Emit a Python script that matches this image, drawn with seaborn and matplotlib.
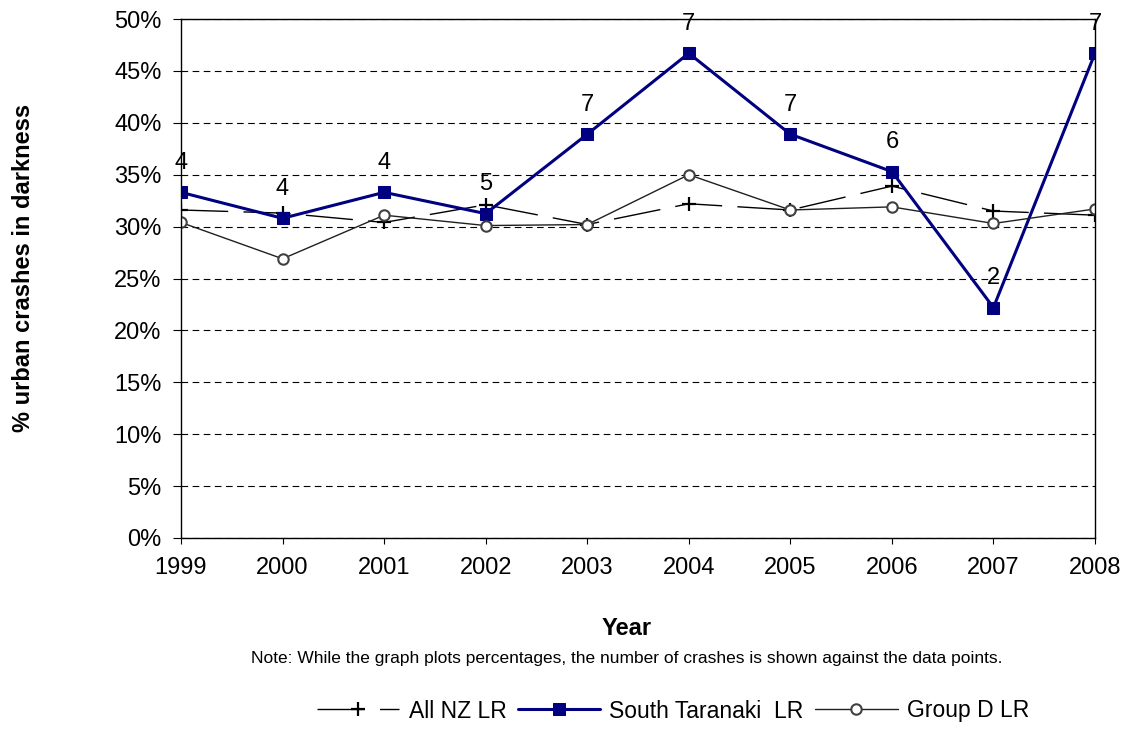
import numpy as np
import pandas as pd
import seaborn as sns
import matplotlib.pyplot as plt
from matplotlib.ticker import PercentFormatter

years = [1999, 2000, 2001, 2002, 2003, 2004, 2005, 2006, 2007, 2008]
all_nz = [31.6, 31.3, 30.4, 32.1, 30.2, 32.2, 31.6, 33.9, 31.5, 31.1]
south_taranaki = [33.3, 30.8, 33.3, 31.25, 38.9, 46.7, 38.9, 35.3, 22.2, 46.7]
group_d = [30.4, 26.9, 31.1, 30.1, 30.2, 35.0, 31.6, 31.9, 30.3, 31.7]
crash_counts = [4, 4, 4, 5, 7, 7, 7, 6, 2, 7]

sns.set_theme(style="white")
plt.rcParams['font.family'] = ['Liberation Sans', 'DejaVu Sans']
plt.rcParams['text.color'] = 'black'
plt.rcParams['xtick.color'] = 'black'
plt.rcParams['ytick.color'] = 'black'
plt.rcParams['axes.labelcolor'] = 'black'

fig = plt.figure(figsize=(11.25, 7.29), dpi=100)
ax = fig.add_axes([181 / 1125, 1 - 538 / 729, 914 / 1125, 519 / 729])

sns.lineplot(x=years, y=all_nz, ax=ax, color='black', linewidth=1.0,
             marker='+', markersize=10, markeredgewidth=1.6,
             markeredgecolor='black', label='All NZ LR')
ax.lines[-1].set_dashes([34, 11])
sns.lineplot(x=years, y=south_taranaki, ax=ax, color='#000080', linewidth=2.2,
             marker='s', markersize=9, markeredgecolor='#000080',
             label='South Taranaki  LR')
sns.lineplot(x=years, y=group_d, ax=ax, color='#202020', linewidth=1.0,
             marker='o', markersize=7.5, markerfacecolor='white',
             markeredgecolor='#404040', markeredgewidth=1.5,
             label='Group D LR')

# crash counts above the South Taranaki points
for yr, v, n in zip(years, south_taranaki, crash_counts):
    ax.annotate(str(n), (yr, v), xytext=(0, 21), textcoords='offset points',
                ha='center', va='center', fontsize=17)

ax.set_xlim(1999, 2008)
ax.set_ylim(0, 50)
ax.set_xticks(years)
ax.set_yticks(np.arange(0, 51, 5))
ax.yaxis.set_major_formatter(PercentFormatter(decimals=0))
ax.tick_params(axis='both', labelsize=17, direction='out',
               left=True, bottom=True, color='black', width=0.8)
ax.tick_params(axis='x', pad=10, length=4)
ax.tick_params(axis='y', pad=8, length=6)
ax.grid(axis='y', color='black', linestyle=(0, (6, 4)), linewidth=0.8)
for s in ax.spines.values():
    s.set_color('black')
    s.set_linewidth(1)

fig.text(627 / 1125, 1 - 635 / 729, 'Year', ha='center', va='baseline',
         fontsize=17, fontweight='bold')
fig.text(24 / 1125, 1 - 268 / 729, '% urban crashes in darkness',
         rotation=90, ha='center', va='center', fontsize=17, fontweight='bold')
fig.text(627 / 1125, 1 - 663 / 729,
         'Note: While the graph plots percentages, the number of crashes is shown against the data points.',
         ha='center', va='baseline', fontsize=12.5)

ax.legend(loc='center', bbox_to_anchor=(673 / 1125, 1 - 711 / 729),
          bbox_transform=fig.transFigure, ncol=3, frameon=False,
          fontsize=16.5, handlelength=3.6, columnspacing=0.5, handletextpad=0.4,
          borderpad=0)

fig.savefig('out.png', dpi=100)
